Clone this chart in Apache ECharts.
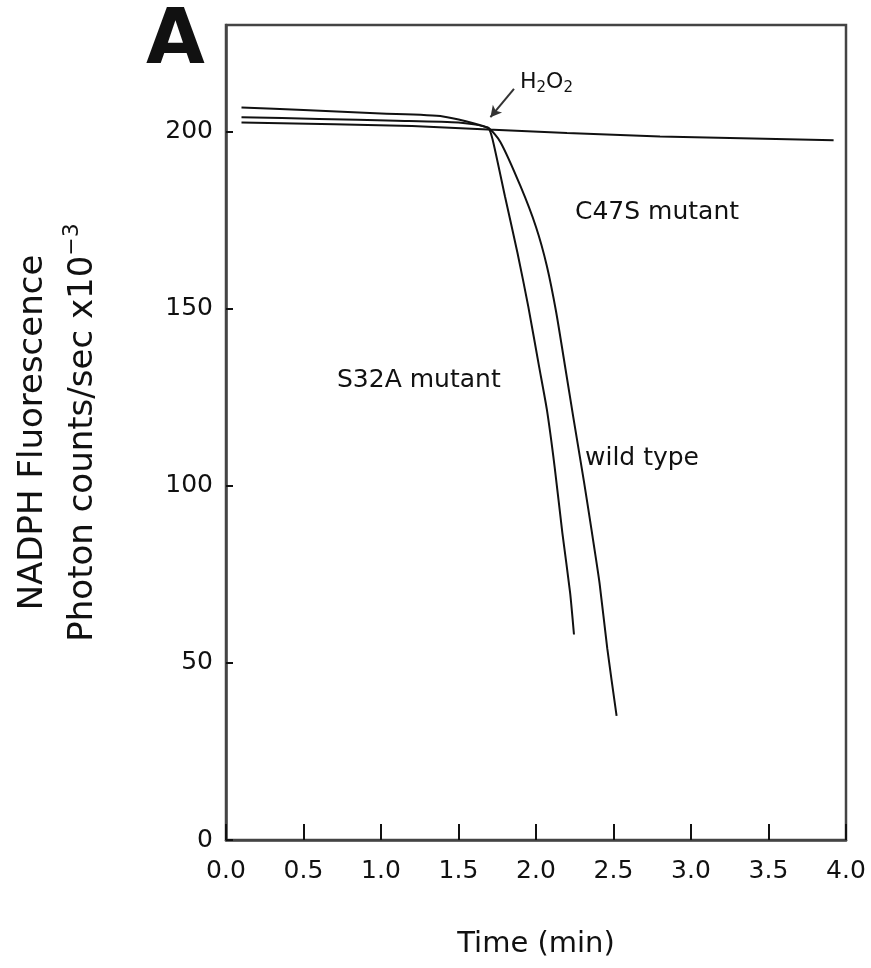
<!DOCTYPE html>
<html>
<head>
<meta charset="utf-8">
<script src="https://cdn.jsdelivr.net/npm/echarts@6/dist/echarts.min.js"></script>
<style>
html,body{margin:0;padding:0;background:#fff;}
#chart{width:871px;height:968px;}
</style>
</head>
<body>
<div id="chart"></div>
<script>
// ---- data ----
var xTicks = [0, 0.5, 1.0, 1.5, 2.0, 2.5, 3.0, 3.5, 4.0];
var yTicks = [0, 50, 100, 150, 200];

var wildTypeTime  = [0.10, 0.50, 1.00, 1.40, 1.69, 1.77, 1.90, 2.00, 2.07, 2.13, 2.19, 2.24, 2.31, 2.36, 2.41, 2.46, 2.52];
var wildTypeValue = [206.7, 206.0, 205.0, 204.2, 201.0, 197.0, 184.5, 173.0, 162.0, 149.0, 133.0, 119.5, 101.0, 87.0, 72.5, 54.0, 35.0];

var s32aTime  = [0.10, 0.60, 1.10, 1.50, 1.69, 1.72, 1.80, 1.88, 1.95, 2.02, 2.07, 2.12, 2.17, 2.22, 2.245];
var s32aValue = [204.0, 203.5, 203.0, 202.5, 201.0, 197.7, 181.6, 165.8, 150.6, 133.6, 121.5, 105.4, 86.7, 69.8, 58.0];

var c47sTime  = [0.10, 0.70, 1.20, 1.69, 2.20, 2.80, 3.40, 3.92];
var c47sValue = [202.5, 202.0, 201.5, 200.5, 199.5, 198.5, 198.0, 197.5];

var arrowFrom = [1.706, 204.0];
var arrowTo   = [1.858, 212.0];

function pairs(t, v) { return t.map(function (x, i) { return [x, v[i]]; }); }

var FONT = '"DejaVu Sans", sans-serif';
var TXT = '#111';

var chart = echarts.init(document.getElementById('chart'), null, {renderer: 'canvas'});

var lineStyle = {color: '#111', width: 2};

var option = {
  animation: false,
  backgroundColor: '#fff',
  grid: {left: 213, right: 25, top: 25, bottom: 128, show: true, borderColor: '#444', borderWidth: 2.5, backgroundColor: 'transparent'},
  xAxis: {
    type: 'value', min: 0, max: 4, interval: 0.5,
    name: 'Time (min)', nameLocation: 'middle', nameGap: 90,
    nameTextStyle: {fontFamily: FONT, fontSize: 29, color: TXT},
    axisLine: {show: true, lineStyle: {color: '#444', width: 2.5}},
    axisTick: {show: true, inside: true, length: 16, customValues: xTicks, lineStyle: {color: '#111', width: 2}},
    axisLabel: {customValues: xTicks, margin: 19, fontFamily: FONT, fontSize: 25, color: TXT,
      formatter: function (v) { return v.toFixed(1); }},
    splitLine: {show: false}
  },
  yAxis: {
    type: 'value', min: 0, max: 230, interval: 50,
    name: '{a|NADPH Fluorescence}\n{a|Photon counts/sec x10}{s|−3}',
    nameLocation: 'middle', nameRotate: 90, nameGap: 118,
    nameTextStyle: {
      fontFamily: FONT, color: TXT, lineHeight: 50,
      rich: {
        a: {fontFamily: FONT, fontSize: 34, color: TXT, lineHeight: 50},
        s: {fontFamily: FONT, fontSize: 22, color: TXT, lineHeight: 50, padding: [0, 0, 22, 0]}
      }
    },
    axisLine: {show: true, lineStyle: {color: '#444', width: 2.5}},
    axisTick: {show: true, inside: true, length: 7, customValues: yTicks, lineStyle: {color: '#111', width: 2}},
    axisLabel: {customValues: yTicks, margin: 13, fontFamily: FONT, fontSize: 25, color: TXT},
    splitLine: {show: false}
  },
  series: [
    {name: 'wild type', type: 'line', data: pairs(wildTypeTime, wildTypeValue), showSymbol: false, symbol: 'none', smooth: 0.2, lineStyle: lineStyle},
    {name: 'S32A mutant', type: 'line', data: pairs(s32aTime, s32aValue), showSymbol: false, symbol: 'none', smooth: 0.2, lineStyle: lineStyle},
    {name: 'C47S mutant', type: 'line', data: pairs(c47sTime, c47sValue), showSymbol: false, symbol: 'none', lineStyle: lineStyle,
      markLine: {
        silent: true, symbol: ['arrow', 'none'], symbolSize: [9, 11],
        label: {show: false},
        lineStyle: {color: '#333', width: 2, type: 'solid'},
        data: [[{coord: arrowFrom}, {coord: arrowTo}]]
      }
    }
  ],
  graphic: [
    {type: 'text', x: 146, y: 43, style: {text: 'A', font: '600 76px "DejaVu Sans", sans-serif', fill: '#111', verticalAlign: 'middle'}},
    {type: 'text', x: 520, y: 82, style: {
      text: '{b|H}{d|2}{b|O}{d|2}', verticalAlign: 'middle',
      rich: {
        b: {fontFamily: FONT, fontSize: 22, fill: TXT, color: TXT},
        d: {fontFamily: FONT, fontSize: 15, fill: TXT, color: TXT, padding: [12, 0, 0, 0]}
      }
    }},
    {type: 'text', x: 575, y: 212, style: {text: 'C47S mutant', font: '25px "DejaVu Sans", sans-serif', fill: TXT, verticalAlign: 'middle'}},
    {type: 'text', x: 337, y: 380, style: {text: 'S32A mutant', font: '25px "DejaVu Sans", sans-serif', fill: TXT, verticalAlign: 'middle'}},
    {type: 'text', x: 585, y: 458, style: {text: 'wild type', font: '25px "DejaVu Sans", sans-serif', fill: TXT, verticalAlign: 'middle'}}
  ]
};

chart.setOption(option);
</script>
</body>
</html>
